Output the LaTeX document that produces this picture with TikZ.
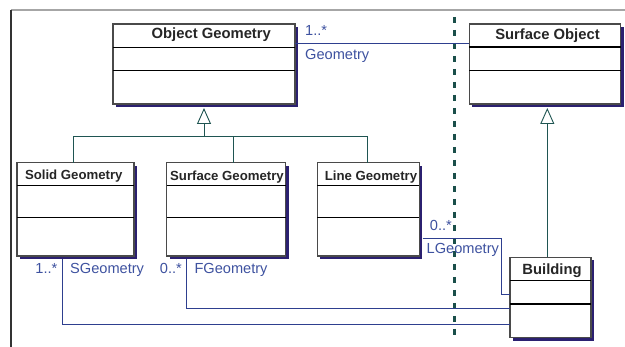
\documentclass[tikz,border=0pt]{standalone}
\usepackage{fontspec}
\setmainfont{Liberation Sans}
\usetikzlibrary{shadows,arrows.meta}
\definecolor{navy}{HTML}{2B2070}
\definecolor{assocblue}{HTML}{2E3F8F}
\definecolor{labblue}{HTML}{3E52A0}
\definecolor{gteal}{HTML}{1F5552}
\definecolor{boxedge}{HTML}{4A4A4A}
\definecolor{dotteal}{HTML}{1A4F4A}
\begin{document}
\begin{tikzpicture}[x=1pt,y=-1pt,
  umlbox/.style={draw=boxedge, line width=1.1pt, fill=white, anchor=north west,
    inner sep=0pt, outer sep=0pt,
    drop shadow={shadow xshift=3pt, shadow yshift=-3pt, fill=navy, opacity=1}},
  divthin/.style={draw=black, line width=0.9pt},
  divthick/.style={draw=black, line width=2pt},
  bigtitle/.style={anchor=base, inner sep=0pt, font=\fontsize{14.8}{16}\selectfont\bfseries, text=black!85},
  smalltitle/.style={anchor=base, inner sep=0pt, font=\fontsize{13.2}{15}\selectfont\bfseries, text=black!85},
  lab/.style={inner sep=0pt, font=\fontsize{14.6}{16}\selectfont, text=labblue},
  assoc/.style={draw=assocblue, line width=0.9pt},
  genline/.style={draw=gteal, line width=0.9pt},
  genarrow/.style={genline, -{Triangle[open, width=14pt, length=16pt, line width=0.9pt]}}
]
\useasboundingbox (0,0) rectangle (625,347);
\fill[white] (0,0) rectangle (625,347);
% frame
\draw[gray!70, line width=1.5pt] (11,10) -- (625,10);
\draw[black!80, line width=1.2pt] (11,10) -- (11,347);
% dotted separator
\draw[dotteal, line width=3pt, dash pattern=on 6pt off 7pt] (454.5,17) -- (454.5,340);

% boxes
\node[umlbox, minimum width=182pt, minimum height=80pt] (og) at (113,24) {};
\node[umlbox, minimum width=151.5pt, minimum height=80pt] (so) at (469.3,24) {};
\node[umlbox, minimum width=117pt, minimum height=93.3pt] (sg) at (17,162.7) {};
\node[umlbox, minimum width=119pt, minimum height=93.3pt] (fg) at (166.7,162.7) {};
\node[umlbox, minimum width=102pt, minimum height=93.3pt] (lg) at (317.3,162.7) {};
\node[umlbox, minimum width=81pt, minimum height=80.4pt] (bu) at (510,257.3) {};

% dividers
\draw[divthin] ([yshift=-23.5pt]og.north west) -- ([yshift=-23.5pt]og.north east);
\draw[divthin] ([yshift=-46.5pt]og.north west) -- ([yshift=-46.5pt]og.north east);
\draw[divthick] ([yshift=-23pt]so.north west) -- ([yshift=-23pt]so.north east);
\draw[divthin] ([yshift=-46.5pt]so.north west) -- ([yshift=-46.5pt]so.north east);
\foreach \b in {sg,fg,lg}{
  \draw[divthin] ([yshift=-22.3pt]\b.north west) -- ([yshift=-22.3pt]\b.north east);
  \draw[divthin] ([yshift=-54.6pt]\b.north west) -- ([yshift=-54.6pt]\b.north east);
}
\draw[divthin] ([yshift=-23.4pt]bu.north west) -- ([yshift=-23.4pt]bu.north east);
\draw[divthick] ([yshift=-46.7pt]bu.north west) -- ([yshift=-46.7pt]bu.north east);

% titles
\node[bigtitle] (og-t) at (211.3,39) {Object Geometry};
\node[bigtitle] (so-t) at (547.5,40) {Surface Object};
\node[smalltitle] (sg-t) at (73.8,180) {Solid Geometry};
\node[smalltitle] (fg-t) at (227,181) {Surface Geometry};
\node[smalltitle] (lg-t) at (371,181) {Line Geometry};
\node[bigtitle] (bu-t) at (552,274.3) {Building};

% generalization Object Geometry
\coordinate (hub) at (204,136);
\coordinate (sgtop) at (73,162.7);
\coordinate (fgtop) at (233,162.7);
\coordinate (lgtop) at (367.7,162.7);
\coordinate (ogtip) at (204,108);
\draw[genline] (sgtop) |- (hub);
\draw[genline] (hub) -| (lgtop);
\draw[genline] (fgtop) -- (fgtop |- hub);
\draw[genarrow] (hub) -- (ogtip);

% generalization Surface Object
\coordinate (sotip) at (547.3,108);
\coordinate (butop) at (547.3,257.3);
\draw[genarrow] (butop) -- (sotip);

% associations
\draw[assoc] ([yshift=-19pt]og.north east) -- ([yshift=-19pt]so.north west);
\node[lab, anchor=base west] (m1) at (305,36) {1..*};
\node[lab, anchor=base west] (r1) at (305,59.3) {Geometry};

\coordinate (sgb) at (62.5,259);
\coordinate (fgb) at (186,259);
\coordinate (lgr) at (422.5,238.3);
\draw[assoc] (sgb) |- ([yshift=-66.7pt]bu.north west);
\draw[assoc] (fgb) |- ([yshift=-51pt]bu.north west);
\draw[assoc] (lgr) -- (501.7,238.3) |- ([yshift=-37pt]bu.north west);

\node[lab, anchor=base east] (m2) at (57.5,273.3) {1..*};
\node[lab, anchor=base west] (r2) at (70,273.3) {SGeometry};
\node[lab, anchor=base east] (m3) at (182,273.3) {0..*};
\node[lab, anchor=base west] (r3) at (194.3,273.3) {FGeometry};
\node[lab, anchor=base east] (m4) at (452,230.7) {0..*};
\node[lab, anchor=base west] (r4) at (426.5,253.3) {LGeometry};
\end{tikzpicture}
\end{document}
